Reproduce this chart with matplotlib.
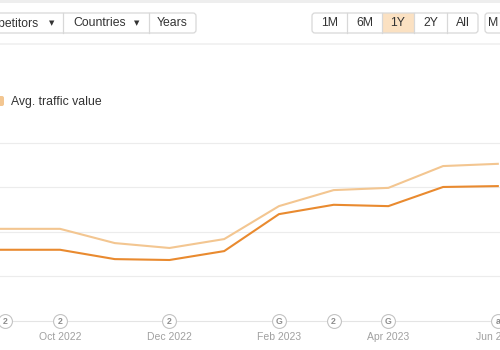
import matplotlib
matplotlib.use("Agg")
import matplotlib.pyplot as plt
from matplotlib.patches import FancyBboxPatch, Rectangle

plt.rcParams['font.family'] = ['Liberation Sans', 'DejaVu Sans']

# monthly points, index 0 = Sep 2022 (Aug only extends the line to the left edge)
months = ["Aug 2022", "Sep 2022", "Oct 2022", "Nov 2022", "Dec 2022", "Jan 2023",
          "Feb 2023", "Mar 2023", "Apr 2023", "May 2023", "Jun 2023"]
month_idx = [-1, 0, 1, 2, 3, 4, 5, 6, 7, 8, 9]
avg_value = [2.07, 2.07, 2.07, 1.75, 1.64, 1.84, 2.58, 2.94, 2.99, 3.48, 3.53]
org_value = [1.60, 1.60, 1.60, 1.39, 1.37, 1.57, 2.40, 2.61, 2.58, 3.01, 3.03]
tick_idx = [1, 3, 5, 7, 9]
tick_labels = ["Oct 2022", "Dec 2022", "Feb 2023", "Apr 2023", "Jun 2023"]
note_idx = [0, 1, 3, 5, 6, 7, 9]
note_txt = ["2", "2", "2", "G", "2", "G", "a"]

LIGHT = "#f3c691"
DARK = "#e98a2f"
GREY = "#a0a0a0"
BORDER = "#d8d8d8"

fig = plt.figure(figsize=(5, 3.5), dpi=100)

# page chrome in pixel units
ov = fig.add_axes([0, 0, 1, 1], zorder=0)
ov.set_xlim(0, 500); ov.set_ylim(350, 0); ov.axis("off")
ov.add_patch(Rectangle((0, 0), 500, 3, color="#eeeeee", lw=0))
ov.add_patch(Rectangle((0, 43), 500, 2, color="#f2f2f2", lw=0))

def group(x0, x1, divs, hl=None):
    if hl:
        ov.add_patch(Rectangle((hl[0], 13), hl[1] - hl[0], 20, color="#fbe1c2", lw=0))
    ov.add_patch(FancyBboxPatch((x0, 13), x1 - x0, 20, boxstyle="round,pad=0,rounding_size=3",
                                fc="none", ec=BORDER, lw=0.9))
    for d in divs:
        ov.plot([d, d], [13, 33], color=BORDER, lw=0.9)

group(-20, 196, [63, 149])
ov.text(39, 23.5, "Competitors", ha="right", va="center", fontsize=8.8, color="#333333")
ov.text(52, 23, "▼", ha="center", va="center", fontsize=5, color="#333333", family="DejaVu Sans")
ov.text(73, 23.5, "Countries", ha="left", va="center", fontsize=8.8, color="#333333")
ov.text(137, 23, "▼", ha="center", va="center", fontsize=5, color="#333333", family="DejaVu Sans")
ov.text(172.5, 23.5, "Years", ha="center", va="center", fontsize=8.8, color="#333333")

group(312, 478, [347, 382, 414, 447], hl=(382, 414))
for cx, lab in zip([329.5, 364.5, 398, 430.5, 462.5], ["1M", "6M", "1Y", "2Y", "All"]):
    ov.text(cx, 23.5, lab, ha="center", va="center", fontsize=8.8, color="#333333")
group(485, 540, [])
ov.text(488, 23.5, "M", ha="left", va="center", fontsize=8.8, color="#333333")

# legend
ov.add_patch(FancyBboxPatch((-6, 96), 10, 10, boxstyle="round,pad=0,rounding_size=2",
                            fc=LIGHT, ec="none"))
ov.text(11, 101.5, "Avg. traffic value", ha="left", va="center", fontsize=8.8, color="#333333")

# chart
ax = fig.add_axes([0, 29 / 350, 1, (321 - 134) / 350], zorder=1)
ax.patch.set_alpha(0)
ax.set_xlim(-0.097, 9.04)
ax.set_ylim(0, 4.2)
ax.plot(month_idx, avg_value, color=LIGHT, lw=1.5, solid_joinstyle="round")
ax.plot(month_idx, org_value, color=DARK, lw=1.5, solid_joinstyle="round")
ax.set_yticks([1, 2, 3, 4])
ax.yaxis.grid(True, color="#ececec", lw=0.8)
ax.set_axisbelow(True)
ax.tick_params(axis="y", left=False, labelleft=False)
ax.set_xticks(tick_idx)
ax.set_xticklabels(tick_labels, fontsize=7.5, color=GREY)
ax.tick_params(axis="x", length=0, pad=8)
for s in ["top", "left", "right"]:
    ax.spines[s].set_visible(False)
ax.spines["bottom"].set_color("#e4e4e4")
ax.spines["bottom"].set_linewidth(0.8)

ax.scatter(note_idx, [0] * len(note_idx), s=100, facecolor="white", edgecolor="#c4c4c4",
           linewidth=0.8, zorder=5, clip_on=False)
for xi, t in zip(note_idx, note_txt):
    ax.text(xi, 0, t, ha="center", va="center", fontsize=6.3, color="#8c8c8c",
            fontweight="bold", zorder=6, clip_on=False)

fig.savefig("out.png", dpi=100)
